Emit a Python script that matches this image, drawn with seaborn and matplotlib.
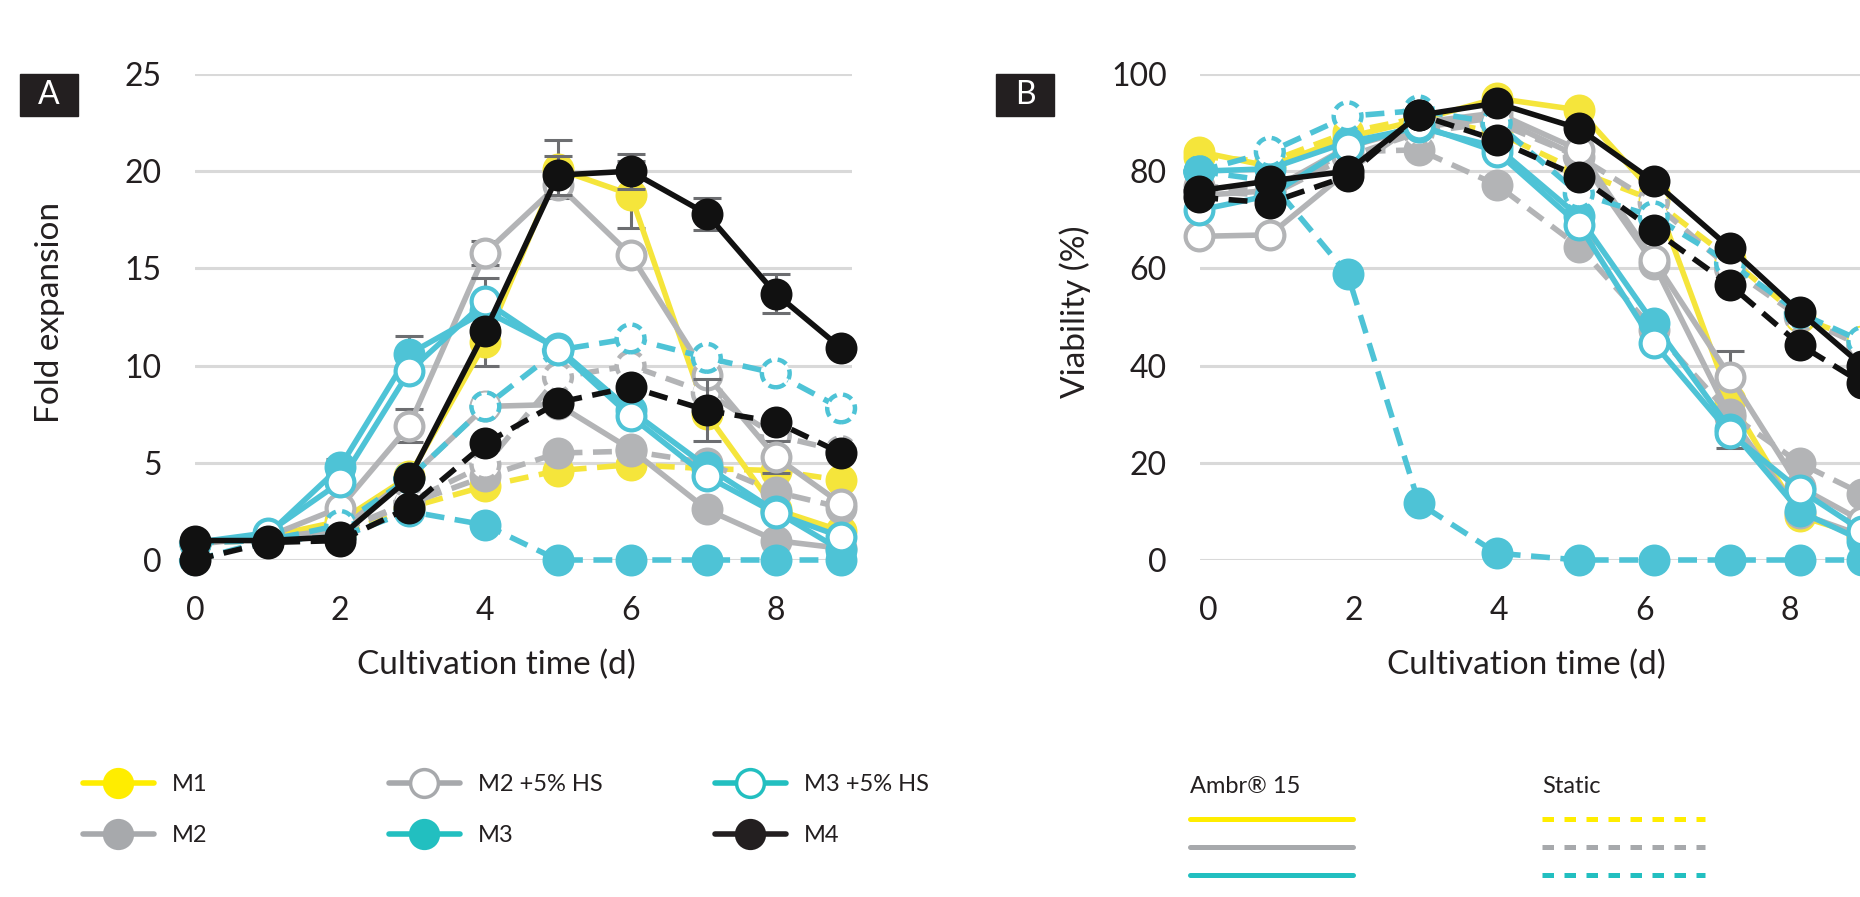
import matplotlib
matplotlib.use("Agg")
import matplotlib.pyplot as plt
import seaborn as sns
from matplotlib.lines import Line2D
from matplotlib.patches import Rectangle

days_a = [0, 1, 2, 2.95, 4, 5, 6, 7.05, 8, 8.9]
days_b = [-0.12, 0.85, 1.92, 2.9, 3.97, 5.1, 6.13, 7.18, 8.14, 9.0]

# panel A - fold expansion (Ambr 15 = solid, static = dashed)
fold_m1_ambr = [0.9, 1.2, 2.0, 4.3, 11.2, 20.1, 18.8, 7.5, 2.6, 1.5]
fold_m1_static = [0.9, 1.0, 1.3, 2.7, 3.8, 4.6, 4.9, 4.7, 4.6, 4.1]
fold_m2_ambr = [0.9, 1.1, 1.6, 4.2, 7.9, 8.0, 5.7, 2.6, 1.0, 0.6]
fold_m2_static = [0.9, 1.0, 1.5, 2.9, 4.3, 5.5, 5.6, 5.0, 3.5, 2.7]
fold_m2hs_ambr = [0.8, 1.2, 2.7, 6.9, 15.8, 19.3, 15.7, 9.5, 5.3, 2.9]
fold_m2hs_static = [0.9, 1.0, 1.5, 3.0, 4.9, 9.4, 10.0, 8.6, 6.4, 5.6]
fold_m3_ambr = [0.9, 1.3, 4.8, 10.6, 12.8, 10.9, 7.7, 4.8, 2.5, 0.5]
fold_m3_static = [0.9, 1.0, 1.2, 2.5, 1.8, 0, 0, 0, 0, 0]
fold_m3hs_ambr = [0.9, 1.4, 4.0, 9.7, 13.3, 10.8, 7.4, 4.3, 2.4, 1.2]
fold_m3hs_static = [0.0, 1.0, 1.8, 4.2, 7.9, 10.8, 11.4, 10.4, 9.6, 7.8]
fold_m4_ambr = [1.0, 1.0, 1.2, 4.2, 11.8, 19.8, 20.0, 17.8, 13.7, 10.9]
fold_m4_static = [0.0, 0.9, 1.0, 2.7, 6.0, 8.1, 8.9, 7.7, 7.1, 5.5]

# error bars that are visible in panel A
err_fold_m1_ambr = [0, 0, 0, 0, 1.2, 1.5, 1.7, 0, 0, 0]
err_fold_m2hs_ambr = [0, 0, 0, 0.85, 0.6, 0, 0, 0, 0.8, 0]
err_fold_m3_ambr = [0, 0, 0.4, 0.9, 0, 0, 0, 0, 0, 0]
err_fold_m3hs_ambr = [0, 0, 0, 0, 1.2, 0, 0, 0, 0, 0]
err_fold_m4_ambr = [0, 0, 0, 0, 0, 1.0, 0.9, 0.83, 1.0, 0]
err_fold_m4_static = [0, 0, 0, 0, 0, 0, 0, 1.6, 0, 0]

# panel B - viability (%)
via_m1_ambr = [84, 81, 87, 90.5, 95, 92.6, 75.5, 33, 9, 5]
via_m1_static = [83, 82, 88, 91, 88, 80, 74, 62, 50, 45]
via_m2_ambr = [75, 76, 85, 89, 91, 83, 61, 29.5, 9.6, 5]
via_m2_static = [77, 76, 84, 84.4, 77.2, 64.5, 47.4, 30, 19.9, 13.6]
via_m2hs_ambr = [66.6, 66.9, 80, 90, 92, 84.4, 61.8, 37.7, 15, 8]
via_m2hs_static = [76, 75, 83, 88, 90, 83, 73.5, 60, 50, 44]
via_m3_ambr = [80, 80.5, 86, 89, 85, 70.7, 48.7, 27, 10, 4]
via_m3_static = [80, 78, 58.8, 11.7, 1.4, 0, 0, 0, 0, 0]
via_m3hs_ambr = [72, 75, 85, 89.5, 84, 69, 44.6, 26.1, 14.4, 6]
via_m3hs_static = [80, 84, 91.3, 92.5, 89.9, 75.4, 70.7, 61.1, 50.8, 45]
via_m4_ambr = [76, 78, 80, 91.5, 94, 88.8, 77.9, 64.2, 51, 40]
via_m4_static = [74.6, 73.5, 79, 91.6, 86.4, 78.9, 67.9, 56.6, 44.3, 36.4]

err_via_m1_ambr = [0, 0, 0, 0, 0, 0, 0, 10, 0, 0]

YELLOW = "#F5E53B"
GRAY = "#B3B4B6"
TEAL = "#4EC3D6"
BLACK = "#111111"
TXT = "#231F20"
ERR = "#6D6E71"

sns.set_theme(style="white")
plt.rcParams["font.family"] = ["Lato", "DejaVu Sans"]
plt.rcParams["text.color"] = TXT


def draw(ax, days, vals, color, filled=True, static=False, err=None, z=3):
    ls = (0, (3.4, 1.9)) if static else "-"
    if err is not None:
        ax.errorbar(days, vals, yerr=err, fmt="none", ecolor=ERR, elinewidth=2.2,
                    capsize=10, capthick=2.2, zorder=z - 0.5, clip_on=False)
    if static and not filled:
        # open markers with a dashed outline
        sns.lineplot(x=days, y=vals, ax=ax, color=color, linewidth=4.0, linestyle=ls,
                     sort=False, errorbar=None, zorder=z, clip_on=False)
        sns.scatterplot(x=days, y=vals, ax=ax, s=400, facecolor="white", edgecolor=color,
                        linewidth=3.2, linestyle=(0, (2.2, 1.4)), zorder=z + 0.1, clip_on=False)
    else:
        sns.lineplot(x=days, y=vals, ax=ax, color=color, linewidth=4.0, linestyle=ls,
                     sort=False, errorbar=None, marker="o", markersize=20,
                     markerfacecolor=color if filled else "white", markeredgecolor=color,
                     markeredgewidth=3.0, zorder=z, clip_on=False)


fig = plt.figure(figsize=(18.6, 8.97), dpi=100)
W, H = 1860, 897
ax_a = fig.add_axes([195 / W, 1 - 560 / H, 657 / W, 486 / H])
ax_b = fig.add_axes([1200 / W, 1 - 560 / H, 666 / W, 486 / H])

# panel A
draw(ax_a, days_a, fold_m1_static, YELLOW, True, True, z=3)
draw(ax_a, days_a, fold_m1_ambr, YELLOW, True, False, err_fold_m1_ambr, z=4)
draw(ax_a, days_a, fold_m2_static, GRAY, True, True, z=5)
draw(ax_a, days_a, fold_m2hs_static, GRAY, False, True, z=6)
draw(ax_a, days_a, fold_m2_ambr, GRAY, True, False, z=7)
draw(ax_a, days_a, fold_m2hs_ambr, GRAY, False, False, err_fold_m2hs_ambr, z=8)
draw(ax_a, days_a, fold_m3_static, TEAL, True, True, z=9)
draw(ax_a, days_a, fold_m3hs_static, TEAL, False, True, z=10)
draw(ax_a, days_a, fold_m3_ambr, TEAL, True, False, err_fold_m3_ambr, z=11)
draw(ax_a, days_a, fold_m3hs_ambr, TEAL, False, False, err_fold_m3hs_ambr, z=12)
draw(ax_a, days_a, fold_m4_static, BLACK, True, True, err_fold_m4_static, z=13)
draw(ax_a, days_a, fold_m4_ambr, BLACK, True, False, err_fold_m4_ambr, z=14)

# panel B
draw(ax_b, days_b, via_m1_static, YELLOW, True, True, z=3)
draw(ax_b, days_b, via_m1_ambr, YELLOW, True, False, err_via_m1_ambr, z=4)
draw(ax_b, days_b, via_m2_static, GRAY, True, True, z=5)
draw(ax_b, days_b, via_m2hs_static, GRAY, False, True, z=6)
draw(ax_b, days_b, via_m2_ambr, GRAY, True, False, z=7)
draw(ax_b, days_b, via_m2hs_ambr, GRAY, False, False, z=8)
draw(ax_b, days_b, via_m3_ambr, TEAL, True, False, z=9)
draw(ax_b, days_b, via_m3hs_ambr, TEAL, False, False, z=10)
draw(ax_b, days_b, via_m3hs_static, TEAL, False, True, z=11)
draw(ax_b, days_b, via_m3_static, TEAL, True, True, z=12)
draw(ax_b, days_b, via_m4_static, BLACK, True, True, z=13)
draw(ax_b, days_b, via_m4_ambr, BLACK, True, False, z=14)

for ax, ylim, yticks, ylab, ylx in [
    (ax_a, (0, 25), range(0, 26, 5), "Fold expansion", -0.198),
    (ax_b, (0, 100), range(0, 101, 20), "Viability (%)", -0.164),
]:
    ax.set_ylim(*ylim)
    ax.set_yticks(list(yticks))
    ax.set_xticks([0, 2, 4, 6, 8])
    ax.grid(axis="y", color="#D9D9D9", linewidth=2.2)
    ax.grid(axis="x", visible=False)
    ax.set_axisbelow(True)
    for s in ax.spines.values():
        s.set_visible(False)
    ax.tick_params(axis="both", length=0, labelsize=23, labelcolor=TXT)
    ax.tick_params(axis="y", pad=24)
    ax.tick_params(axis="x", pad=26)
    ax.set_ylabel(ylab, fontsize=24, color=TXT)
    ax.yaxis.set_label_coords(ylx, 0.51)
    ax.set_xlabel("Cultivation time (d)", fontsize=24, color=TXT)
    ax.set_facecolor("none")

ax_a.set_xlim(0, 9.05)
ax_b.set_xlim(-0.11, 9.05)
ax_a.xaxis.set_label_coords(0.458, -0.185)
ax_b.xaxis.set_label_coords(0.49, -0.185)

# panel letters
for x0, letter in [(20, "A"), (996, "B")]:
    fig.patches.append(Rectangle((x0 / W, 1 - 116 / H), 58 / W, 42 / H,
                                 transform=fig.transFigure, color=TXT))
    fig.text((x0 + 29) / W, 1 - 95 / H, letter, color="white", fontsize=23,
             ha="center", va="center")


# legend: media
def handle(color, filled=True):
    return Line2D([], [], color=color, linewidth=4.0, marker="o", markersize=20,
                  markerfacecolor=color if filled else "white", markeredgecolor=color,
                  markeredgewidth=2.5)


LEG_YEL = "#FFED00"
LEG_GRAY = "#A7A9AC"
LEG_TEAL = "#22BFC0"
columns = [
    (83, [handle(LEG_YEL), handle(LEG_GRAY)], ["M1", "M2"]),
    (389, [handle(LEG_GRAY, False), handle(LEG_TEAL)], ["M2 +5% HS", "M3"]),
    (715, [handle(LEG_TEAL, False), handle(TXT)], ["M3 +5% HS", "M4"]),
]
for x0, hs, labs in columns:
    fig.legend(hs, labs, loc="upper left", bbox_to_anchor=(x0 / W, 1 - 774 / H),
               frameon=False, fontsize=17, handlelength=3.0, handletextpad=0.75,
               labelspacing=1.29, borderpad=0, borderaxespad=0)

# legend: culture system
for x0, title, ls in [(1190, "Ambr® 15", "-"), (1542, "Static", (0, (2.3, 2.1)))]:
    fig.text(x0 / W, 1 - 786 / H, title, fontsize=17, ha="left", va="center", color=TXT)
    hs = [Line2D([], [], color=c, linewidth=3.6, linestyle=ls)
          for c in (LEG_YEL, LEG_GRAY, LEG_TEAL)]
    fig.legend(hs, ["", "", ""], loc="upper left",
               bbox_to_anchor=(x0 / W, 1 - 810 / H), frameon=False, fontsize=17,
               handlelength=6.9, handletextpad=0, labelspacing=0.31,
               borderpad=0, borderaxespad=0)

fig.savefig("out.png", dpi=100)
